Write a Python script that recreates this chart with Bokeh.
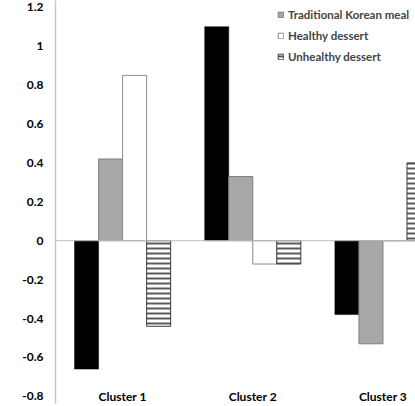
from bokeh.plotting import figure
from bokeh.models import Range1d, FixedTicker, Span, Legend, LegendItem
from bokeh.embed import file_html
from bokeh.resources import INLINE

# ---- data ----
clusters = ["Cluster 1", "Cluster 2", "Cluster 3"]
cluster_pos = [1, 2, 3]
series_black = [-0.66, 1.10, -0.38]          # first series (legend entry cut off)
traditional_korean_meal = [0.42, 0.33, -0.53]
healthy_dessert = [0.85, -0.12, 0.0]
unhealthy_dessert = [-0.44, -0.12, 0.40]
y_ticks = [-0.8, -0.6, -0.4, -0.2, 0, 0.2, 0.4, 0.6, 0.8, 1, 1.2]
y_tick_labels = ["-0.8", "-0.6", "-0.4", "-0.2", "0", "0.2", "0.4", "0.6", "0.8", "1", "1.2"]

FONT = "Lato"
bar_w = 0.1846
offsets = [-1.5 * bar_w, -0.5 * bar_w, 0.5 * bar_w, 1.5 * bar_w]

p = figure(width=415, height=406, output_backend="svg", toolbar_location=None,
           x_range=Range1d(0.4846, 3.25), y_range=Range1d(-0.837, 1.235),
           min_border_left=55, min_border_right=0, min_border_top=0, min_border_bottom=0)
p.outline_line_color = None
p.xgrid.grid_line_color = None
p.ygrid.grid_line_color = None
p.background_fill_color = "white"
p.border_fill_color = "white"

def xs(k):
    return [c + offsets[k] for c in cluster_pos]

r0 = p.vbar(x=xs(0), top=series_black, bottom=0, width=bar_w,
            fill_color="black", line_color="black", line_width=0.5)
r1 = p.vbar(x=xs(1), top=traditional_korean_meal, bottom=0, width=bar_w,
            fill_color="#a8a8a8", line_color="#7f7f7f", line_width=1)
r2 = p.vbar(x=xs(2), top=healthy_dessert, bottom=0, width=bar_w,
            fill_color="white", line_color="#8c8c8c", line_width=1)
r3 = p.vbar(x=xs(3), top=unhealthy_dessert, bottom=0, width=bar_w,
            fill_color="white", line_color="#3c3c3c", line_width=1,
            hatch_pattern="horizontal_line", hatch_color="#5a5a5a",
            hatch_weight=2, hatch_scale=5)

p.add_layout(Span(location=0, dimension="width", line_color="#bdbdbd", line_width=1))

# y axis
p.yaxis.ticker = FixedTicker(ticks=y_ticks)
p.yaxis.major_label_overrides = {t: l for t, l in zip(y_ticks, y_tick_labels)}
p.yaxis.axis_line_color = "#c8c8c8"
p.yaxis.axis_line_width = 1.5
p.yaxis.major_tick_line_color = None
p.yaxis.minor_tick_line_color = None
p.yaxis.major_tick_in = 0
p.yaxis.major_tick_out = 0
p.yaxis.major_label_standoff = 12
p.yaxis.major_label_text_font = FONT
p.yaxis.major_label_text_font_style = "bold"
p.yaxis.major_label_text_font_size = "12px"
p.yaxis.major_label_text_color = "black"

# x axis
p.xaxis.ticker = FixedTicker(ticks=cluster_pos)
p.xaxis.major_label_overrides = {c: l for c, l in zip(cluster_pos, clusters)}
p.xaxis.axis_line_color = None
p.xaxis.major_tick_line_color = None
p.xaxis.minor_tick_line_color = None
p.xaxis.major_tick_in = 0
p.xaxis.major_tick_out = 0
p.xaxis.major_label_standoff = -15
p.xaxis.major_label_text_font = FONT
p.xaxis.major_label_text_font_style = "bold"
p.xaxis.major_label_text_font_size = "12px"
p.xaxis.major_label_text_color = "black"

legend = Legend(items=[
    LegendItem(label="Traditional Korean meal", renderers=[r1]),
    LegendItem(label="Healthy dessert", renderers=[r2]),
    LegendItem(label="Unhealthy dessert", renderers=[r3]),
], location=(222, 338))
legend.label_text_font = FONT
legend.label_text_font_style = "bold"
legend.label_text_font_size = "11.5px"
legend.glyph_width = 7
legend.glyph_height = 7
legend.label_height = 18
legend.spacing = 3
legend.padding = 0
legend.margin = 0
legend.label_standoff = 4
legend.background_fill_alpha = 0
legend.border_line_alpha = 0
p.add_layout(legend)

open("out.html", "w").write(file_html(p, INLINE))
